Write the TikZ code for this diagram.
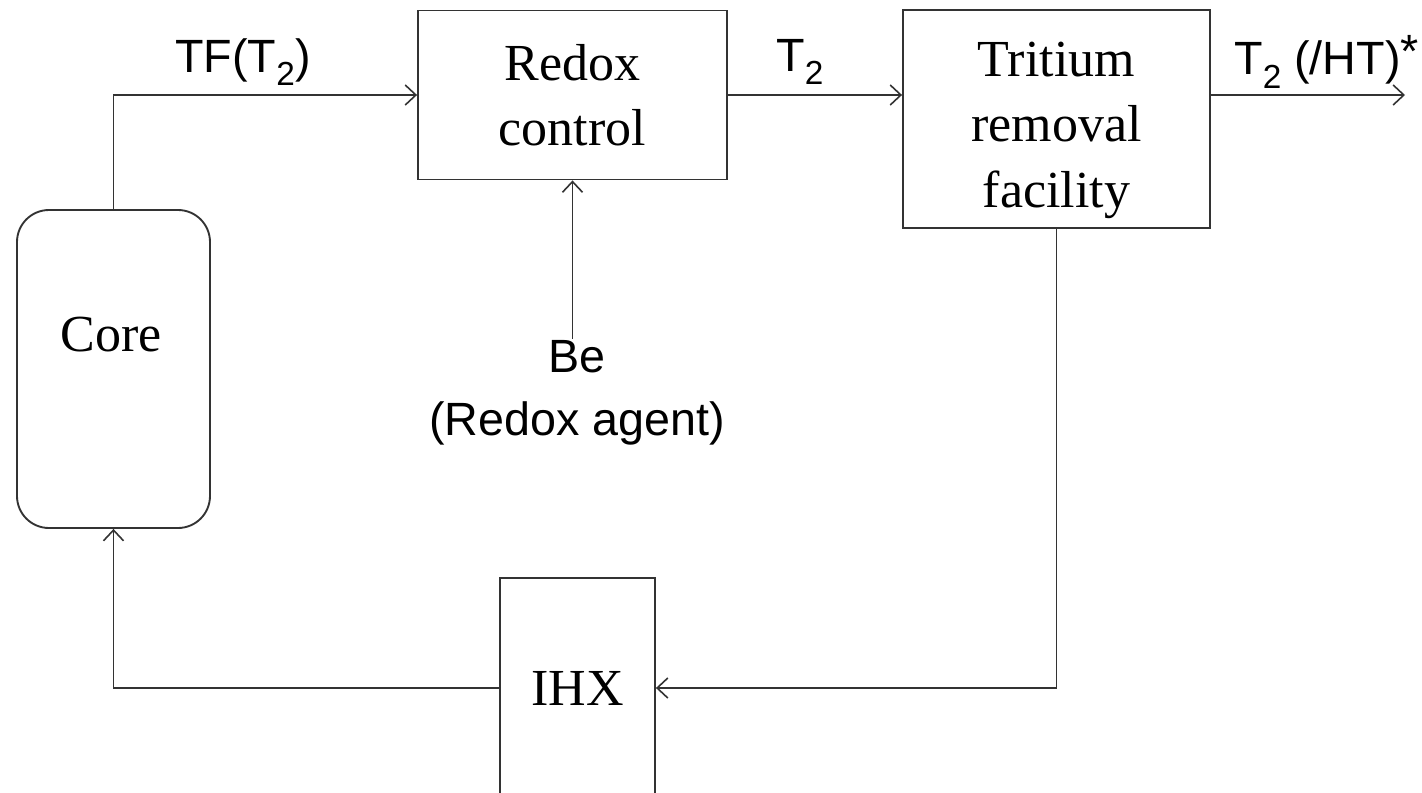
\documentclass[tikz,border=0pt]{standalone}
\usepackage{fontspec}
\setmainfont{Liberation Serif}
\setsansfont{Liberation Sans}
\usetikzlibrary{arrows.meta}
\newcommand\lsub[1]{{\fontsize{25}{25}\selectfont\raisebox{-0.4em}{#1}}}
\begin{document}
\begin{tikzpicture}[x=0.75pt,y=-0.75pt,
  boxfont/.style={font=\fontsize{39}{49}\selectfont,align=center,inner sep=0pt},
  box/.style={draw=black!80,line width=1.4pt,inner sep=0pt,boxfont},
  lab/.style={font=\sffamily\fontsize{35}{47}\selectfont,align=center,inner sep=0pt},
  flow/.style={draw=black!80,line width=1.4pt,-{Straight Barb[length=8pt,width=15pt,line width=1.2pt]}}]
\clip (0,0) rectangle (1422,793);
\useasboundingbox (0,0) rectangle (1422,793);
% nodes
\node[box,rounded corners=24pt,minimum width=144.75pt,minimum height=238.5pt] (core) at (113.5,369) {};
\node[boxfont] (coretext) at (111,335) {Core};
\node[box,minimum width=231.75pt,minimum height=126.75pt] (redox) at (572.5,95) {Redox\\control};
\node[box,minimum width=230.25pt,minimum height=163.5pt,
  label={[boxfont,yshift=-8.5pt]center:Tritium\\removal\\facility}] (trit) at (1056.5,119) {};
\node[box,minimum width=116.25pt,minimum height=165pt] (ihx) at (577.5,688) {IHX};
\node[lab] (be) at (577,393) {Be\\(Redox agent)};
\coordinate (out) at (1405,95);
% labels
\node[lab] (tf) at (243,62) {TF(T\lsub{2})};
\node[lab] (t2) at (800,62) {T\lsub{2}};
\node[lab,anchor=east] (t2ht) at (1419,62) {T\lsub{2} (/HT)\raisebox{0.15em}{*}};
% connectors
\draw[flow] (core.north) |- (redox.west);
\draw[flow] (redox.east) -- (redox.east -| trit.west);
\draw[flow] (trit.east |- out) -- (out);
\draw[flow] (be.north -| redox.south) ++(0,-2) -- (redox.south);
\draw[flow] (trit.south) |- (ihx.east);
\draw[flow] (ihx.west) -| (core.south);
\end{tikzpicture}
\end{document}
